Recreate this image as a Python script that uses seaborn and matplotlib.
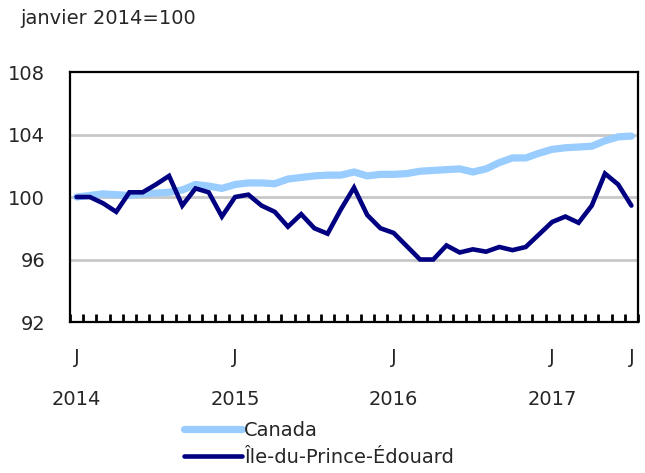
import pandas as pd
import seaborn as sns
import matplotlib.pyplot as plt
import numpy as np

months = pd.date_range("2014-01-01", "2017-07-01", freq="MS")

canada = [100.0, 100.1, 100.2, 100.15, 100.1, 100.2, 100.25, 100.3, 100.45, 100.8,
          100.7, 100.55, 100.8, 100.9, 100.9, 100.85, 101.15, 101.25, 101.35, 101.4,
          101.4, 101.6, 101.35, 101.45, 101.45, 101.5, 101.65, 101.7, 101.75, 101.8,
          101.6, 101.8, 102.2, 102.5, 102.5, 102.8, 103.05, 103.15, 103.2, 103.25,
          103.6, 103.85, 103.9]

ipe = [100.0, 100.0, 99.6, 99.05, 100.3, 100.3, 100.8, 101.35, 99.45, 100.55,
       100.3, 98.75, 100.0, 100.15, 99.45, 99.05, 98.1, 98.9, 98.0, 97.65,
       99.2, 100.6, 98.85, 98.0, 97.7, 96.85, 96.0, 96.0, 96.9, 96.45,
       96.65, 96.5, 96.8, 96.6, 96.8, 97.6, 98.4, 98.75, 98.35, 99.45,
       101.5, 100.8, 99.45]

series_names = ["Canada", "Île-du-Prince-Édouard"]
series_colors = ["#99ccff", "#000080"]
series_widths = [5.2, 3.3]

yticks = [92, 96, 100, 104, 108]
year_labels = ["2014", "2015", "2016", "2017"]

if __name__ == "__main__":
    sns.set_style("white")
    plt.rcParams["font.family"] = ["DejaVu Sans"]
    fs = 14

    df = pd.DataFrame({"idx": np.arange(len(months)),
                       series_names[0]: canada,
                       series_names[1]: ipe})
    long_df = df.melt(id_vars="idx", var_name="serie", value_name="valeur")

    fig = plt.figure(figsize=(6.45, 4.73), dpi=100)
    ax = fig.add_axes([70 / 645, 1 - 322 / 473, 568 / 645, 250 / 473])

    for y in yticks[1:-1]:
        ax.axhline(y, color="#c8c8c8", lw=2, zorder=0)

    for name, col, lw in zip(series_names, series_colors, series_widths):
        sns.lineplot(data=long_df[long_df["serie"] == name], x="idx", y="valeur",
                     color=col, lw=lw, ax=ax, label=name, solid_joinstyle="miter",
                     solid_capstyle="round")

    ax.set_xlim(-0.5, len(months) - 0.5)
    ax.set_ylim(92, 108)
    ax.set_yticks(yticks)
    ax.set_yticklabels([str(v) for v in yticks], fontsize=fs)
    ax.tick_params(axis="y", left=False, length=0, pad=18)

    # month boundary ticks
    ax.set_xticks(np.arange(-0.5, len(months), 1.0))
    ax.set_xticklabels([])
    ax.tick_params(axis="x", bottom=True, direction="in", length=6, width=2,
                   color="black")

    # J labels and years
    jpos = [i for i, m in enumerate(months) if m.month == 1] + [len(months) - 1]
    for i in jpos:
        ax.text(i, -0.14, "J", transform=ax.get_xaxis_transform(),
                ha="center", va="center", fontsize=fs)
    for k, yl in zip(jpos[:4], year_labels):
        ax.text(k, -0.31, yl, transform=ax.get_xaxis_transform(),
                ha="center", va="center", fontsize=fs)

    for sp in ax.spines.values():
        sp.set_visible(True)
        sp.set_color("black")
        sp.set_linewidth(1.6)

    ax.set_xlabel("")
    ax.set_ylabel("")
    ax.get_legend().remove()
    h, l = ax.get_legend_handles_labels()
    fig.legend(h, l, loc="upper left", bbox_to_anchor=(176 / 645, 1 - 413 / 473),
               frameon=False, fontsize=fs, handlelength=3.0, handletextpad=0.1,
               labelspacing=0.42, borderaxespad=0)

    fig.text(20 / 645, 1 - 19 / 473, "janvier 2014=100", fontsize=fs,
             ha="left", va="center")

    fig.savefig("out.png", dpi=100)
